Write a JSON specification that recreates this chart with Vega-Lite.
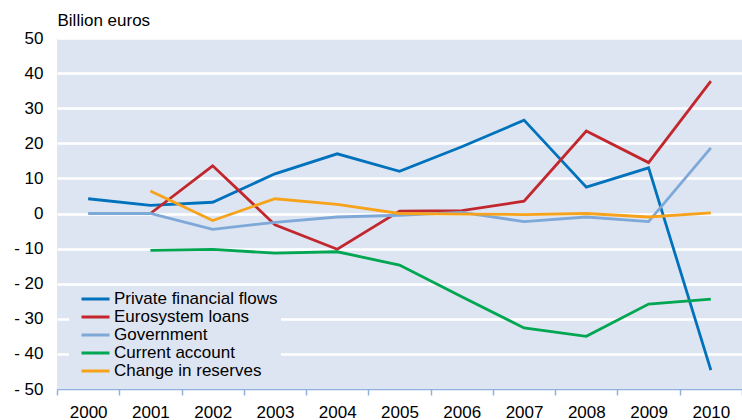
{
  "$schema": "https://vega.github.io/schema/vega-lite/v6.json",
  "autosize": {"type": "none"},
  "width": 685,
  "height": 351,
  "padding": {"left": 57, "top": 38, "right": 0, "bottom": 31},
  "background": "white",
  "config": {
    "font": "Liberation Sans",
    "view": {"fill": "#dee5f2", "stroke": null}
  },
  "data": {
    "values": [
      {"year": "2000", "series": "Private financial flows", "value": 4.2},
      {"year": "2001", "series": "Private financial flows", "value": 2.3},
      {"year": "2002", "series": "Private financial flows", "value": 3.2},
      {"year": "2003", "series": "Private financial flows", "value": 11.3},
      {"year": "2004", "series": "Private financial flows", "value": 17.0},
      {"year": "2005", "series": "Private financial flows", "value": 12.0},
      {"year": "2006", "series": "Private financial flows", "value": 19.0},
      {"year": "2007", "series": "Private financial flows", "value": 26.6},
      {"year": "2008", "series": "Private financial flows", "value": 7.5},
      {"year": "2009", "series": "Private financial flows", "value": 13.0},
      {"year": "2010", "series": "Private financial flows", "value": -44.6},
      {"year": "2001", "series": "Eurosystem loans", "value": 0.0},
      {"year": "2002", "series": "Eurosystem loans", "value": 13.6},
      {"year": "2003", "series": "Eurosystem loans", "value": -3.2},
      {"year": "2004", "series": "Eurosystem loans", "value": -10.2},
      {"year": "2005", "series": "Eurosystem loans", "value": 0.7},
      {"year": "2006", "series": "Eurosystem loans", "value": 0.8},
      {"year": "2007", "series": "Eurosystem loans", "value": 3.5},
      {"year": "2008", "series": "Eurosystem loans", "value": 23.5},
      {"year": "2009", "series": "Eurosystem loans", "value": 14.5},
      {"year": "2010", "series": "Eurosystem loans", "value": 37.7},
      {"year": "2000", "series": "Government", "value": 0.0},
      {"year": "2001", "series": "Government", "value": 0.0},
      {"year": "2002", "series": "Government", "value": -4.5},
      {"year": "2003", "series": "Government", "value": -2.5},
      {"year": "2004", "series": "Government", "value": -1.0},
      {"year": "2005", "series": "Government", "value": -0.5},
      {"year": "2006", "series": "Government", "value": 0.3},
      {"year": "2007", "series": "Government", "value": -2.3},
      {"year": "2008", "series": "Government", "value": -1.0},
      {"year": "2009", "series": "Government", "value": -2.3},
      {"year": "2010", "series": "Government", "value": 18.7},
      {"year": "2001", "series": "Current account", "value": -10.5},
      {"year": "2002", "series": "Current account", "value": -10.2},
      {"year": "2003", "series": "Current account", "value": -11.3},
      {"year": "2004", "series": "Current account", "value": -10.9},
      {"year": "2005", "series": "Current account", "value": -14.7},
      {"year": "2006", "series": "Current account", "value": -23.7},
      {"year": "2007", "series": "Current account", "value": -32.6},
      {"year": "2008", "series": "Current account", "value": -35.0},
      {"year": "2009", "series": "Current account", "value": -25.8},
      {"year": "2010", "series": "Current account", "value": -24.4},
      {"year": "2001", "series": "Change in reserves", "value": 6.4},
      {"year": "2002", "series": "Change in reserves", "value": -2.0},
      {"year": "2003", "series": "Change in reserves", "value": 4.2},
      {"year": "2004", "series": "Change in reserves", "value": 2.6},
      {"year": "2005", "series": "Change in reserves", "value": 0.0},
      {"year": "2006", "series": "Change in reserves", "value": -0.2},
      {"year": "2007", "series": "Change in reserves", "value": -0.3},
      {"year": "2008", "series": "Change in reserves", "value": 0.0},
      {"year": "2009", "series": "Change in reserves", "value": -1.0},
      {"year": "2010", "series": "Change in reserves", "value": 0.2}
    ]
  },
  "mark": {"type": "line", "strokeWidth": 2.8, "clip": false},
  "encoding": {
    "x": {
      "field": "year",
      "type": "ordinal",
      "bandPosition": 0.5,
      "scale": {"type": "band", "paddingInner": 0, "paddingOuter": 0},
      "axis": {
        "title": null,
        "labelAngle": 0,
        "tickBand": "extent",
        "domainColor": "#8fb1dd",
        "domainWidth": 1.5,
        "tickColor": "#8fb1dd",
        "tickWidth": 1.5,
        "tickSize": 6,
        "labelPadding": 9,
        "labelFontSize": 17,
        "labelColor": "black",
        "grid": false
      }
    },
    "y": {
      "field": "value",
      "type": "quantitative",
      "scale": {"domain": [-50, 50], "nice": false},
      "axis": {
        "values": [-50, -40, -30, -20, -10, 0, 10, 20, 30, 40, 50],
        "labelExpr": "datum.value < 0 ? '- ' + abs(datum.value) : datum.label",
        "domain": false,
        "ticks": false,
        "labelPadding": 14,
        "labelFontSize": 17,
        "labelColor": "black",
        "gridColor": "white",
        "gridWidth": 2.5,
        "title": "Billion euros",
        "titleAngle": 0,
        "titleX": 0,
        "titleY": -13,
        "titleAlign": "left",
        "titleBaseline": "alphabetic",
        "titleFontSize": 17,
        "titleFontWeight": "normal",
        "titleColor": "black"
      }
    },
    "color": {
      "field": "series",
      "type": "nominal",
      "scale": {
        "domain": ["Private financial flows", "Eurosystem loans", "Government", "Current account", "Change in reserves"],
        "range": ["#0072bc", "#c1272d", "#7ea8d8", "#00a651", "#f7a21b"]
      },
      "legend": {
        "title": null,
        "orient": "none",
        "legendX": 12,
        "legendY": 249,
        "fillColor": "#dee5f2",
        "padding": 3,
        "symbolOffset": 8,
        "symbolType": "stroke",
        "symbolSize": 784,
        "symbolStrokeWidth": 3,
        "labelFontSize": 17,
        "labelColor": "black",
        "labelOffset": 3,
        "labelLimit": 400,
        "clipHeight": 18,
        "rowPadding": 0
      }
    }
  }
}
